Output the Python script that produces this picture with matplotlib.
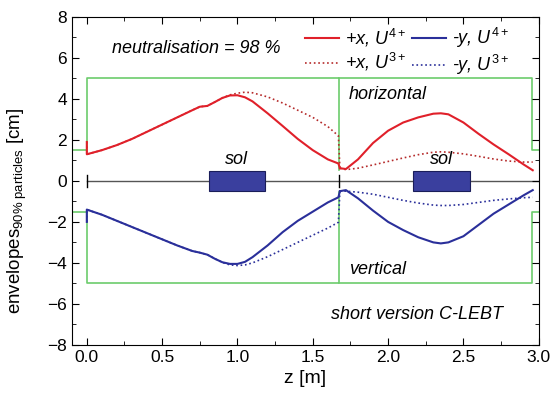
import numpy as np
import matplotlib.pyplot as plt
from matplotlib.patches import Rectangle
from matplotlib.ticker import MultipleLocator

plt.rcParams['font.family'] = ['Liberation Sans', 'DejaVu Sans']
plt.rcParams['mathtext.fontset'] = 'custom'
plt.rcParams['mathtext.it'] = 'Liberation Sans:italic'
plt.rcParams['mathtext.rm'] = 'Liberation Sans'

# z positions [m] of the read-off points, first section (0 .. 1.67) and second (1.68 .. 2.96)
z1 = [0.0, 0.0, 0.1, 0.2, 0.3, 0.4, 0.5, 0.6, 0.7, 0.75, 0.8, 0.85, 0.9, 0.95, 1.0,
      1.05, 1.1, 1.2, 1.3, 1.4, 1.5, 1.6, 1.67, 1.68]
x4_1 = [1.9, 1.3, 1.5, 1.75, 2.05, 2.4, 2.75, 3.1, 3.45, 3.62, 3.66, 3.85, 4.05, 4.17, 4.18,
        4.08, 3.88, 3.3, 2.68, 2.05, 1.5, 1.05, 0.85, 0.62]
x3_1 = [1.9, 1.3, 1.5, 1.75, 2.05, 2.4, 2.75, 3.1, 3.45, 3.62, 3.66, 3.85, 4.05, 4.2, 4.28,
        4.33, 4.3, 4.1, 3.8, 3.45, 3.1, 2.65, 2.2, 0.62]
y4_1 = [-2.0, -1.4, -1.65, -1.95, -2.25, -2.55, -2.85, -3.15, -3.42, -3.5, -3.6, -3.8, -3.97, -4.05, -4.05,
        -3.95, -3.72, -3.15, -2.5, -1.95, -1.5, -1.05, -0.8, -0.5]
y3_1 = [-2.0, -1.4, -1.65, -1.95, -2.25, -2.55, -2.85, -3.15, -3.42, -3.5, -3.6, -3.8, -3.98, -4.1, -4.13,
        -4.1, -4.0, -3.7, -3.35, -3.0, -2.65, -2.3, -2.02, -0.5]

z2 = [1.68, 1.72, 1.8, 1.9, 2.0, 2.1, 2.2, 2.3, 2.35, 2.4, 2.5, 2.6, 2.7, 2.8, 2.9, 2.96]
x4_2 = [0.62, 0.58, 1.05, 1.85, 2.45, 2.85, 3.1, 3.28, 3.3, 3.25, 2.85, 2.3, 1.78, 1.3, 0.8, 0.52]
x3_2 = [0.62, 0.55, 0.62, 0.78, 0.95, 1.12, 1.28, 1.4, 1.42, 1.4, 1.32, 1.2, 1.07, 0.97, 0.92, 0.92]
y4_2 = [-0.5, -0.45, -0.85, -1.45, -2.0, -2.4, -2.75, -3.0, -3.05, -3.0, -2.7, -2.15, -1.6, -1.15, -0.7, -0.45]
y3_2 = [-0.5, -0.5, -0.55, -0.65, -0.8, -0.95, -1.08, -1.18, -1.2, -1.2, -1.15, -1.05, -0.95, -0.88, -0.82, -0.8]

# beam pipe aperture [cm]
ap_z = [-0.1, 0.0, 0.0, 1.675, 1.675]
ap_r = [1.5, 1.5, 5.0, 5.0, 0.55]
ap2_z = [1.675, 2.955, 2.955, 3.0]
ap2_r = [5.0, 5.0, 1.5, 1.5]

# solenoids
sol_start = [0.81, 2.165]
sol_len = [0.37, 0.38]

red = '#e0202a'
red_dot = '#b52a2a'
blue = '#2a2f9a'
green = '#6ccc6c'

fig = plt.figure(figsize=(5.52, 3.95), dpi=100)
ax = fig.add_axes([0.13, 0.127, 0.846, 0.83])

for s in (1, -1):
    ax.plot(ap_z, [s * r for r in ap_r], color=green, lw=1.2, zorder=1)
    ax.plot(ap2_z, [s * r for r in ap2_r], color=green, lw=1.2, zorder=1)

ax.plot([0, 3.0], [0, 0], color='#555555', lw=1.0, zorder=1)
ax.plot([0, 0], [-0.3, 0.3], color='black', lw=1.0, zorder=1)
ax.plot([1.675, 1.675], [-0.3, 0.3], color='black', lw=1.0, zorder=1)

for zs, zl in zip(sol_start, sol_len):
    ax.add_patch(Rectangle((zs, -0.5), zl, 1.0, facecolor='#3a3f9e', edgecolor='#1a1d5a',
                           lw=0.8, zorder=2))
    ax.text(zs + zl / 2, 0.65, 'sol', style='italic', fontsize=13, ha='center', va='bottom')

l1, = ax.plot(z1, x4_1, color=red, lw=1.5, zorder=4)
ax.plot(z2, x4_2, color=red, lw=1.5, zorder=4)
l2, = ax.plot(z1, x3_1, color=red_dot, lw=1.2, ls=':', zorder=3)
ax.plot(z2, x3_2, color=red_dot, lw=1.2, ls=':', zorder=3)
l3, = ax.plot(z1, y4_1, color=blue, lw=1.5, zorder=4)
ax.plot(z2, y4_2, color=blue, lw=1.5, zorder=4)
l4, = ax.plot(z1, y3_1, color=blue, lw=1.2, ls=':', zorder=3)
ax.plot(z2, y3_2, color=blue, lw=1.2, ls=':', zorder=3)

ax.legend([l1, l2, l3, l4],
          ['+$x$, $U^{4+}$', '+$x$, $U^{3+}$', '-$y$, $U^{4+}$', '-$y$, $U^{3+}$'],
          ncol=2, loc='upper right', bbox_to_anchor=(0.955, 1.0), frameon=False,
          handlelength=1.9, handletextpad=0.3, columnspacing=0.3, labelspacing=0.15,
          borderaxespad=0.1, prop={'style': 'italic', 'size': 13})

ax.text(0.17, 6.45, 'neutralisation = 98 %', style='italic', fontsize=13, va='center')
ax.text(1.74, 4.2, 'horizontal', style='italic', fontsize=13, va='center')
ax.text(1.74, -4.3, 'vertical', style='italic', fontsize=13, va='center')
ax.text(1.62, -6.5, 'short version C-LEBT', style='italic', fontsize=13, va='center')

ax.set_xlim(-0.1, 3.0)
ax.set_ylim(-8, 8)
ax.xaxis.set_major_locator(MultipleLocator(0.5))
ax.xaxis.set_minor_locator(MultipleLocator(0.25))
ax.yaxis.set_major_locator(MultipleLocator(2))
ax.yaxis.set_minor_locator(MultipleLocator(1))
ax.tick_params(which='both', direction='in', top=True, right=True, labelsize=12.5)
ax.tick_params(which='major', length=5)
ax.tick_params(which='minor', length=3)
ax.xaxis.set_major_formatter(plt.FuncFormatter(lambda v, p: f'{v:.1f}'))
ax.set_xlabel('z [m]', fontsize=14)
ax.set_ylabel(r'envelopes$_{\mathrm{90\%\ particles}}$ [cm]', fontsize=13.5)
ax.yaxis.set_label_coords(-0.092, 0.41)

fig.savefig('out.png', dpi=100)
